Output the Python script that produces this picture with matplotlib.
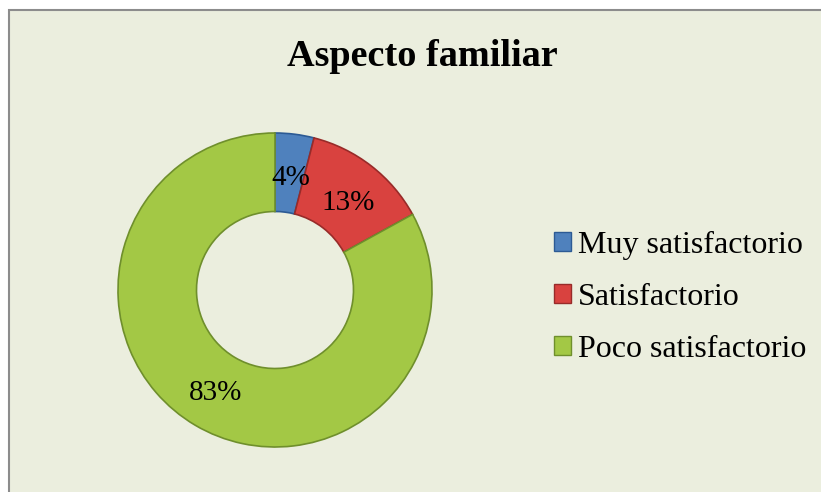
import matplotlib.pyplot as plt
from matplotlib.patches import Patch, Rectangle

# Data
categories = ['Muy satisfactorio', 'Satisfactorio', 'Poco satisfactorio']
values = [4, 13, 83]
labels = ['4%', '13%', '83%']
colors = ['#4F81BD', '#D9423F', '#A3C845']
edges = ['#2C5A94', '#982B29', '#6F8F2C']

W, H = 821, 492
fig = plt.figure(figsize=(W / 100, H / 100), dpi=100)
fig.patch.set_facecolor('white')

# chart area with border
fig.patches.append(Rectangle((9 / W, -0.01), 1, (H - 10) / H + 0.01, transform=fig.transFigure,
                             facecolor='#EBEEDE', edgecolor='#8C8C8C', linewidth=1.5,
                             zorder=-10))

serif = ['Liberation Serif', 'DejaVu Serif']

fig.text(422 / W, (H - 57) / H, 'Aspecto familiar', ha='center', va='center',
         fontsize=27.5, fontweight='bold', family=serif)

# donut
cx, cy, r = 275, H - 290, 157
half = 170
ax = fig.add_axes([(cx - half) / W, (cy - half) / H, 2 * half / W, 2 * half / H])

wedges, _ = ax.pie(values, radius=r, startangle=90, counterclock=False, colors=colors,
                   wedgeprops=dict(width=r * 0.5, linewidth=1.2))
for w, ec in zip(wedges, edges):
    w.set_edgecolor(ec)

ax.set_xlim(-half, half)
ax.set_ylim(-half, half)
ax.set_aspect('equal')
ax.axis('off')

# percentage labels (positions in pixels from the reference)
label_pos = [(291, 178), (348, 203), (216, 393)]
for lab, (px, py) in zip(labels, label_pos):
    ax.text(px - cx, (H - py) - cy, lab, ha='center', va='center', fontsize=21,
            family=serif)

handles = [Patch(facecolor=c, edgecolor=e) for c, e in zip(colors, edges)]
fig.legend(handles, categories, loc='center left', bbox_to_anchor=(525 / W, (H - 297) / H),
           frameon=False, prop=dict(family=serif, size=23), handlelength=0.55,
           handleheight=0.55, handletextpad=0.2, labelspacing=0.72)

fig.savefig('out.png', dpi=100, facecolor=fig.get_facecolor())
